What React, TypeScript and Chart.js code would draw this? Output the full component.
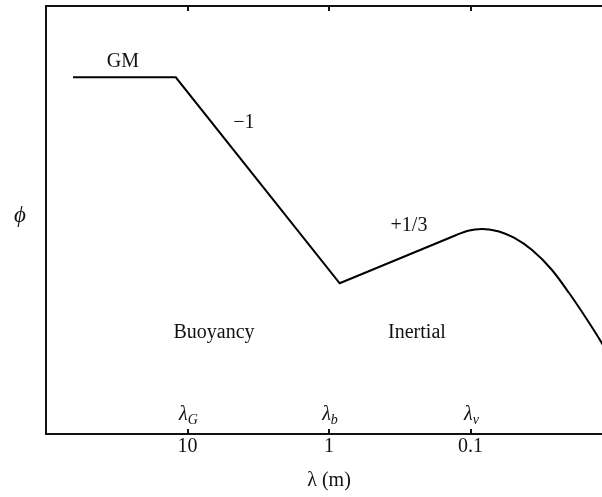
import React, { useEffect, useRef } from "react";
import { Chart, registerables } from "chart.js";

Chart.register(...registerables);

const SERIF = "'Liberation Serif', 'Times New Roman', Times, serif";
const INK = "#111";

// Power-law segments: GM plateau, -1 buoyancy range, +1/3 inertial range
const lambdaSegments = [64.4, 12.1, 0.84, 0.1246];
const phiSegments = [100, 100, 7.0, 13.1];

// Smooth peak and viscous roll-off at small scales
const lambdaRolloff = [
  0.1246, 0.1058, 0.0929, 0.0829, 0.074, 0.0629, 0.0493, 0.0367, 0.02655, 0.0201, 0.01527,
  0.01196, 0.00968,
];
const phiRolloff = [13.1, 13.76, 14.03, 14.1, 14.03, 13.66, 12.61, 10.75, 8.31, 6.17, 4.47, 3.29, 2.44];

// Axis ticks (wavelength in metres) and the characteristic scales marked there
const tickValues = [10, 1, 0.1];
const tickLabels = ["10", "1", "0.1"];
const scaleSubscripts = ["G", "b", "v"];

// Range labels and slope annotations, anchored in (λ, φ)
const noteText = ["GM", "\u22121", "+1/3", "Buoyancy", "Inertial"];
const noteLambda = [28.6, 4.0, 0.272, 6.5, 0.239];
const notePhi = [122, 55.9, 14.7, 3.69, 3.69];

const toPoints = (xs: number[], ys: number[]) => xs.map((x, i) => ({ x, y: ys[i] }));

const decorations = {
  id: "decorations",
  afterDraw(chart: any) {
    const { ctx, chartArea } = chart;
    const xs = chart.scales.x;
    const ys = chart.scales.y;
    ctx.save();
    ctx.strokeStyle = INK;
    ctx.fillStyle = INK;

    // top frame line
    ctx.lineWidth = 2;
    ctx.beginPath();
    ctx.moveTo(chartArea.left - 1, chartArea.top);
    ctx.lineTo(chartArea.right, chartArea.top);
    ctx.stroke();

    // inward tick marks on bottom and top
    ctx.lineWidth = 2;
    tickValues.forEach((v) => {
      const px = Math.round(xs.getPixelForValue(v));
      ctx.beginPath();
      ctx.moveTo(px, chartArea.bottom);
      ctx.lineTo(px, chartArea.bottom - 5);
      ctx.moveTo(px, chartArea.top);
      ctx.lineTo(px, chartArea.top + 5);
      ctx.stroke();
    });

    // characteristic scales λ_G, λ_b, λ_v
    ctx.textBaseline = "alphabetic";
    tickValues.forEach((v, i) => {
      const px = xs.getPixelForValue(v);
      ctx.font = `italic 20px ${SERIF}`;
      const w = ctx.measureText("\u03bb").width;
      ctx.font = `italic 14px ${SERIF}`;
      const ws = ctx.measureText(scaleSubscripts[i]).width;
      const x0 = px - (w + ws) / 2 + 1;
      ctx.font = `italic 20px ${SERIF}`;
      ctx.textAlign = "left";
      ctx.fillText("\u03bb", x0, chartArea.bottom - 14);
      ctx.font = `italic 14px ${SERIF}`;
      ctx.fillText(scaleSubscripts[i], x0 + w, chartArea.bottom - 10);
    });

    // y-axis symbol
    ctx.font = `italic 23px ${SERIF}`;
    ctx.textAlign = "center";
    ctx.textBaseline = "middle";
    ctx.fillText("\u03d5", 20, (chartArea.top + chartArea.bottom) / 2 - 4);

    // annotations
    ctx.font = `20px ${SERIF}`;
    noteText.forEach((t, i) => {
      ctx.fillText(t, xs.getPixelForValue(noteLambda[i]), ys.getPixelForValue(notePhi[i]));
    });
    ctx.restore();
  },
};

export default function App() {
  const canvasRef = useRef<HTMLCanvasElement | null>(null);

  useEffect(() => {
    const canvas = canvasRef.current;
    if (!canvas) return;
    const chart = new Chart(canvas, {
      type: "line",
      data: {
        datasets: [
          {
            data: toPoints(lambdaSegments, phiSegments),
            borderColor: "#000",
            borderWidth: 2,
            pointRadius: 0,
            tension: 0,
            fill: false,
          },
          {
            data: toPoints(lambdaRolloff, phiRolloff),
            borderColor: "#000",
            borderWidth: 2,
            pointRadius: 0,
            cubicInterpolationMode: "monotone",
            fill: false,
          },
        ],
      },
      options: {
        responsive: false,
        animation: false,
        devicePixelRatio: 1,
        layout: { padding: { top: 6, right: 28, left: 0, bottom: 0 } },
        plugins: { legend: { display: false }, tooltip: { enabled: false } },
        scales: {
          x: {
            type: "logarithmic",
            reverse: true,
            min: 0.01,
            max: 100,
            grid: { display: false, drawTicks: false },
            border: { display: true, width: 2, color: INK },
            afterBuildTicks: (scale: any) => {
              scale.ticks = tickValues.map((v) => ({ value: v }));
            },
            afterFit: (scale: any) => {
              scale.height = 63;
            },
            ticks: {
              autoSkip: false,
              maxRotation: 0,
              padding: 1,
              color: INK,
              font: { family: SERIF, size: 20 },
              callback: (_v: any, i: number) => tickLabels[i],
            },
            title: {
              display: true,
              text: "\u03bb (m)",
              color: INK,
              font: { family: SERIF, size: 20 },
              padding: { top: 0, bottom: 4 },
            },
          },
          y: {
            type: "logarithmic",
            min: 1,
            max: 251,
            grid: { display: false, drawTicks: false },
            border: { display: true, width: 2, color: INK },
            ticks: { display: false },
            afterFit: (scale: any) => {
              scale.width = 46;
            },
          },
        },
      },
      plugins: [decorations],
    });
    return () => chart.destroy();
  }, []);

  return (
    <div
      style={{
        position: "fixed",
        left: 0,
        top: 0,
        width: 602,
        height: 497,
        overflow: "hidden",
        background: "#fff",
      }}
    >
      <canvas ref={canvasRef} width={640} height={497} style={{ display: "block" }} />
    </div>
  );
}
